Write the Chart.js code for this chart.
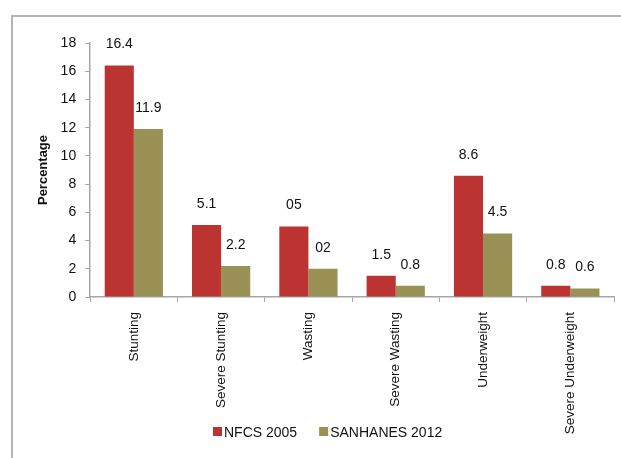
<!DOCTYPE html>
<html>
<head>
<meta charset="utf-8">
<script src="https://cdn.jsdelivr.net/npm/chart.js@4/dist/chart.umd.min.js"></script>
<style>
    html, body { margin: 0; padding: 0; background: #fff; }
    #wrap { position: relative; width: 621px; height: 458px; }
    #frame {
        position: absolute; left: 11px; top: 15px; width: 700px; height: 500px;
        border-top: 2px solid #b4b4b8; border-left: 2px solid #b4b4b8;
    }
    canvas { position: absolute; left: 0; top: 0; }
</style>
</head>
<body>
<div id="wrap">
    <div id="frame"></div>
    <canvas id="chart" width="621" height="458"></canvas>
</div>
<script>
// Chart data
const categories = ['Stunting', 'Severe Stunting', 'Wasting', 'Severe Wasting', 'Underweight', 'Severe Underweight'];
const nfcs2005 = [16.4, 5.1, 5, 1.5, 8.6, 0.8];
const sanhanes2012 = [11.9, 2.2, 2, 0.8, 4.5, 0.6];
// value labels as printed on the original
const nfcsLabels = ['16.4', '5.1', '05', '1.5', '8.6', '0.8'];
const sanhanesLabels = ['11.9', '2.2', '02', '0.8', '4.5', '0.6'];
const yTicks = [0, 2, 4, 6, 8, 10, 12, 14, 16, 18];

const FONT = "'Liberation Sans', Arial, sans-serif";
const AXIS_COLOR = '#a6a6a6';
const TEXT_COLOR = '#111';

// draws text labels above each bar
const barLabels = {
    id: 'barLabels',
    afterDatasetsDraw(chart) {
        const ctx = chart.ctx;
        const texts = [nfcsLabels, sanhanesLabels];
        ctx.save();
        ctx.font = '14px ' + FONT;
        ctx.fillStyle = TEXT_COLOR;
        ctx.textAlign = 'center';
        ctx.textBaseline = 'middle';
        chart.data.datasets.forEach((ds, i) => {
            chart.getDatasetMeta(i).data.forEach((bar, j) => {
                ctx.fillText(texts[i][j], bar.x, bar.y - 21);
            });
        });
        ctx.restore();
    }
};

// legend drawn by hand so it can sit beside the long rotated label
const bottomLegend = {
    id: 'bottomLegend',
    afterDraw(chart) {
        const ctx = chart.ctx;
        let x = 213;
        const y = 432;
        ctx.save();
        ctx.font = '14px ' + FONT;
        ctx.textBaseline = 'middle';
        chart.data.datasets.forEach(ds => {
            ctx.fillStyle = ds.backgroundColor;
            ctx.fillRect(x, y - 5, 9, 9);
            ctx.fillStyle = TEXT_COLOR;
            ctx.fillText(ds.label, x + 11, y + 1);
            x += 11 + ctx.measureText(ds.label).width + 22;
        });
        ctx.restore();
    }
};

Chart.defaults.font.family = FONT;
Chart.defaults.color = TEXT_COLOR;

new Chart(document.getElementById('chart').getContext('2d'), {
    type: 'bar',
    data: {
        labels: categories,
        datasets: [
            {
                label: 'NFCS 2005',
                data: nfcs2005,
                backgroundColor: '#bb3431',
                barPercentage: 1,
                categoryPercentage: 0.667
            },
            {
                label: 'SANHANES 2012',
                data: sanhanes2012,
                backgroundColor: '#9a9157',
                barPercentage: 1,
                categoryPercentage: 0.667
            }
        ]
    },
    options: {
        responsive: false,
        animation: false,
        layout: {
            padding: { left: 36, right: 7, top: 43, bottom: 0 }
        },
        plugins: {
            legend: { display: false },
            tooltip: { enabled: false }
        },
        scales: {
            x: {
                offset: true,
                grid: {
                    display: true,
                    offset: true,
                    drawOnChartArea: false,
                    drawTicks: true,
                    tickLength: 5,
                    color: AXIS_COLOR
                },
                border: { color: AXIS_COLOR, width: 1.5 },
                ticks: {
                    minRotation: 90,
                    maxRotation: 90,
                    autoSkip: false,
                    padding: 10,
                    font: { size: 13.5 },
                    color: TEXT_COLOR
                },
                afterFit(scale) {
                    scale.height = 161;
                }
            },
            y: {
                min: 0,
                max: 18,
                afterBuildTicks(scale) {
                    scale.ticks = yTicks.map(v => ({ value: v }));
                },
                grid: {
                    display: true,
                    drawOnChartArea: false,
                    drawTicks: true,
                    tickLength: 5,
                    color: AXIS_COLOR
                },
                border: { color: AXIS_COLOR, width: 1.5 },
                ticks: {
                    padding: 9,
                    font: { size: 14 },
                    color: TEXT_COLOR
                },
                title: {
                    display: true,
                    text: 'Percentage',
                    font: { size: 13, weight: 'bold' },
                    color: TEXT_COLOR,
                    padding: { top: 0, bottom: 0 }
                }
            }
        }
    },
    plugins: [barLabels, bottomLegend]
});
</script>
</body>
</html>
